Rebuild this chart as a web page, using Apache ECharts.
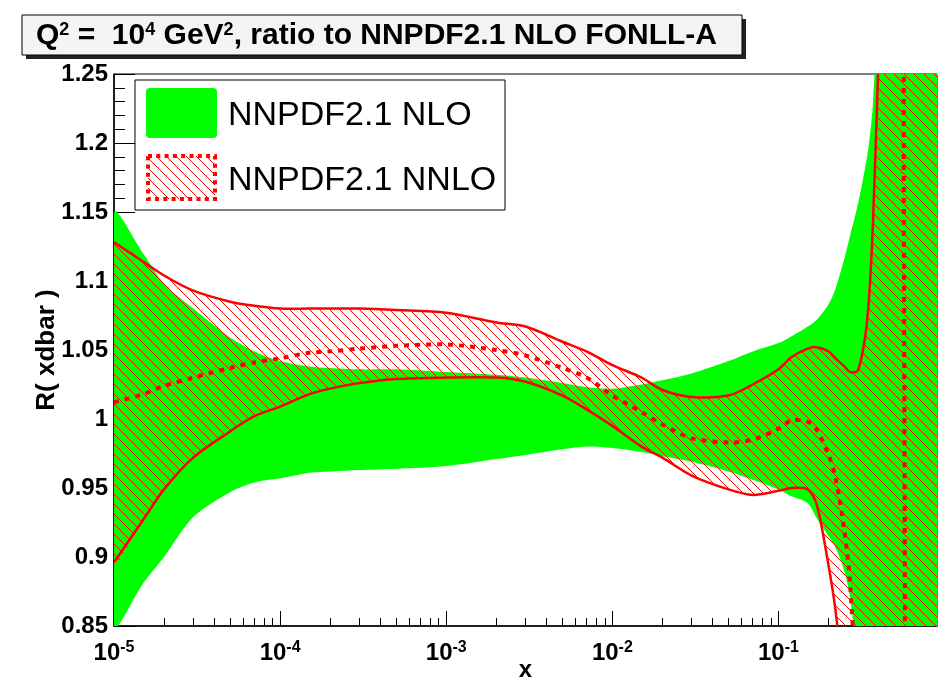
<!DOCTYPE html>
<html>
<head>
<meta charset="utf-8">
<script src="https://cdn.jsdelivr.net/npm/echarts@6/dist/echarts.min.js"></script>
<style>
html, body { margin: 0; padding: 0; background: #fff; }
#main { width: 946px; height: 680px; }
</style>
</head>
<body>
<div id="main"></div>
<script>
// x grid shared by all curves
var xGrid = [1e-5, 1.5e-5, 2e-5, 3e-5, 5e-5, 7e-5, 1e-4, 1.5e-4, 2e-4, 3e-4, 5e-4,
	1e-3, 2e-3, 3e-3, 5e-3, 7e-3, 1e-2, 1.5e-2, 2e-2, 3e-2, 5e-2, 7e-2,
	0.1, 0.12, 0.15, 0.17, 0.2, 0.22, 0.25, 0.27, 0.3, 0.33, 0.35, 0.37, 0.4, 0.45, 0.5, 0.57, 0.58, 0.7, 1.0];

// NNPDF2.1 NLO band (green)
var nloHi = [1.149, 1.120, 1.098, 1.080, 1.059, 1.049, 1.042, 1.038, 1.037, 1.036, 1.036,
	1.034, 1.032, 1.030, 1.026, 1.023, 1.022, 1.025, 1.028, 1.033, 1.042, 1.049,
	1.055, 1.060, 1.067, 1.072, 1.083, 1.094, 1.117, 1.133, 1.155, 1.180, 1.199, 1.228, 1.32, 1.5, 1.5, 1.5, 1.5, 1.5, 1.5];
var nloLo = [0.850, 0.881, 0.900, 0.929, 0.947, 0.954, 0.957, 0.961, 0.962, 0.963, 0.964,
	0.966, 0.971, 0.974, 0.978, 0.980, 0.979, 0.976, 0.973, 0.969, 0.962, 0.956,
	0.949, 0.944, 0.939, 0.928, 0.915, 0.907, 0.889, 0.870, 0.820, 0.7, 0.7, 0.7, 0.7, 0.7, 0.7, 0.7, 0.7, 0.7, 0.7];

// NNPDF2.1 NNLO band (red hatch) and central value
var nnloHi = [1.128, 1.114, 1.104, 1.093, 1.085, 1.082, 1.080, 1.080, 1.080, 1.080, 1.079,
	1.077, 1.070, 1.067, 1.056, 1.049, 1.039, 1.030, 1.021, 1.016, 1.017, 1.025,
	1.036, 1.045, 1.051, 1.052, 1.049, 1.044, 1.038, 1.034, 1.035, 1.057, 1.086, 1.140, 1.26, 1.45, 1.45, 1.45, 1.45, 1.45, 1.45];
var nnloLo = [0.896, 0.927, 0.949, 0.972, 0.991, 1.002, 1.009, 1.018, 1.022, 1.026, 1.029,
	1.030, 1.030, 1.027, 1.017, 1.007, 0.995, 0.980, 0.972, 0.959, 0.949, 0.945,
	0.948, 0.950, 0.949, 0.938, 0.894, 0.862, 0.80, 0.7, 0.7, 0.7, 0.7, 0.7, 0.7, 0.7, 0.7, 0.7, 0.7, 0.7, 0.7];
var nnloC = [1.012, 1.018, 1.024, 1.030, 1.037, 1.041, 1.044, 1.048, 1.049, 1.051, 1.053,
	1.054, 1.050, 1.046, 1.037, 1.030, 1.017, 1.005, 0.996, 0.986, 0.983, 0.985,
	0.993, 0.999, 0.998, 0.992, 0.974, 0.958, 0.918, 0.880, 0.78, 0.65, 0.6, 0.6, 0.6, 0.6, 0.6, 0.6, 1.5, 1.5, 1.5];

var xMajor = [1e-5, 1e-4, 1e-3, 1e-2, 1e-1];
var legendNames = ['NNPDF2.1 NLO', 'NNPDF2.1 NNLO'];

var FONT = "'Liberation Sans', Arial, Helvetica, sans-serif";
var SMOOTH = 0.3;

// minor ticks 2..9 of each decade
var xMinor = [];
for (var d = -5; d <= -1; d++) {
	for (var k = 2; k <= 9; k++) {
		var v = k * Math.pow(10, d);
		if (v < 0.9) xMinor.push(v);
	}
}

function hatchCanvas() {
	var c = document.createElement('canvas');
	c.width = 10; c.height = 10;
	var g = c.getContext('2d');
	g.strokeStyle = '#ff0000';
	g.lineWidth = 1;
	g.beginPath();
	g.moveTo(-1, -1); g.lineTo(11, 11);
	g.moveTo(9, -1); g.lineTo(11, 1);
	g.moveTo(-1, 9); g.lineTo(1, 11);
	g.stroke();
	return c;
}
var hatch = { image: hatchCanvas(), repeat: 'repeat' };

function toPts(api, ys) {
	var p = [];
	for (var i = 0; i < xGrid.length; i++) p.push(api.coord([xGrid[i], ys[i]]));
	return p;
}

function band(lo, hi, fill) {
	return {
		type: 'custom', clip: true, silent: true,
		data: [[1e-3, 1]],
		renderItem: function (params, api) {
			var pts = toPts(api, hi).concat(toPts(api, lo).reverse());
			return { type: 'polygon', shape: { points: pts, smooth: SMOOTH }, style: { fill: fill, stroke: null } };
		}
	};
}

function curve(ys, width, dash) {
	return {
		type: 'custom', clip: true, silent: true,
		data: [[1e-3, 1]],
		renderItem: function (params, api) {
			return {
				type: 'polyline', shape: { points: toPts(api, ys), smooth: SMOOTH },
				style: { stroke: '#ff0000', lineWidth: width, lineDash: dash, lineCap: 'butt', fill: null }
			};
		}
	};
}

var chart = echarts.init(document.getElementById('main'));

var supRich = {
	b: { fontFamily: FONT, fontWeight: 'bold', fontSize: 24, lineHeight: 26, color: '#000' },
	s: { fontFamily: FONT, fontWeight: 'bold', fontSize: 16, lineHeight: 16, verticalAlign: 'top', color: '#000' }
};

var option = {
	animation: false,
	backgroundColor: '#fff',
	grid: {
		left: 114, right: 9, top: 74, bottom: 54, outerBoundsMode: 'none', containLabel: false,
		show: true, borderColor: '#000', borderWidth: 1, backgroundColor: 'transparent'
	},
	xAxis: [{
		type: 'log', logBase: 10, min: 1e-5, max: 0.9,
		name: 'x', nameLocation: 'middle', nameGap: 32, nameMoveOverlap: false,
		nameTextStyle: { fontFamily: FONT, fontWeight: 'bold', fontSize: 24, color: '#000' },
		axisLine: { lineStyle: { color: '#000', width: 1.5 } },
		axisTick: { inside: true, length: 15, customValues: xMajor, lineStyle: { color: '#000' } },
		axisLabel: {
			customValues: xMajor, margin: 14,
			formatter: function (v) { return '{b|10}{s|' + Math.round(Math.log10(v)) + '}'; },
			rich: supRich
		},
		splitLine: { show: false }
	}, {
		type: 'log', logBase: 10, min: 1e-5, max: 0.9, position: 'bottom', offset: 0,
		axisLine: { show: false },
		axisTick: { inside: true, length: 8, customValues: xMinor, lineStyle: { color: '#000' } },
		axisLabel: { show: false },
		splitLine: { show: false }
	}],
	yAxis: {
		type: 'value', min: 0.85, max: 1.25, interval: 0.05,
		name: 'R( xdbar )', nameLocation: 'middle', nameGap: 54, nameRotate: 90, nameMoveOverlap: false,
		nameTextStyle: { fontFamily: FONT, fontWeight: 'bold', fontSize: 26, color: '#000' },
		axisLine: { show: true, lineStyle: { color: '#000', width: 1.5 } },
		axisTick: { inside: true, length: 21, lineStyle: { color: '#000' } },
		minorTick: { show: true, splitNumber: 5, length: 11, lineStyle: { color: '#000' } },
		axisLabel: { margin: 6, fontFamily: FONT, fontWeight: 'bold', fontSize: 24, color: '#000' },
		splitLine: { show: false }
	},
	series: [
		band(nloLo, nloHi, '#00ff00'),
		band(nnloLo, nnloHi, hatch),
		curve(nnloHi, 2.5, null),
		curve(nnloLo, 2.5, null),
		curve(nnloC, 4, [5, 6])
	],
	graphic: [
		// title box with shadow
		{ type: 'rect', z: 100, shape: { x: 26, y: 19, width: 720, height: 40 }, style: { fill: '#222' } },
		{ type: 'rect', z: 101, shape: { x: 22, y: 15, width: 720, height: 40 }, style: { fill: '#f4f4f4', stroke: '#000', lineWidth: 1 } },
		{
			type: 'text', z: 102, x: 36, y: 36,
			style: {
				text: '{b|Q}{s|2}{b| =  10}{s|4}{b| GeV}{s|2}{b|, ratio to NNPDF2.1 NLO FONLL-A}',
				verticalAlign: 'middle',
				rich: {
					b: { fontFamily: FONT, fontWeight: 'bold', fontSize: 30, lineHeight: 30, fill: '#000' },
					s: { fontFamily: FONT, fontWeight: 'bold', fontSize: 18, lineHeight: 18, verticalAlign: 'top', fill: '#000' }
				}
			}
		},
		// legend
		{ type: 'rect', z: 100, shape: { x: 135, y: 80, width: 370, height: 130 }, style: { fill: '#fff', stroke: '#000', lineWidth: 1 } },
		{ type: 'rect', z: 101, shape: { x: 146, y: 88, width: 71, height: 50, r: 4 }, style: { fill: '#00ff00' } },
		{ type: 'rect', z: 101, shape: { x: 148, y: 156, width: 67, height: 43 }, style: { fill: hatch, stroke: '#ff0000', lineWidth: 4, lineDash: [4, 4.3] } },
		{ type: 'text', z: 101, x: 228, y: 116, style: { text: legendNames[0], font: '34px ' + FONT, fill: '#000', verticalAlign: 'middle' } },
		{ type: 'text', z: 101, x: 228, y: 181, style: { text: legendNames[1], font: '34px ' + FONT, fill: '#000', verticalAlign: 'middle' } }
	]
};

chart.setOption(option);
</script>
</body>
</html>
